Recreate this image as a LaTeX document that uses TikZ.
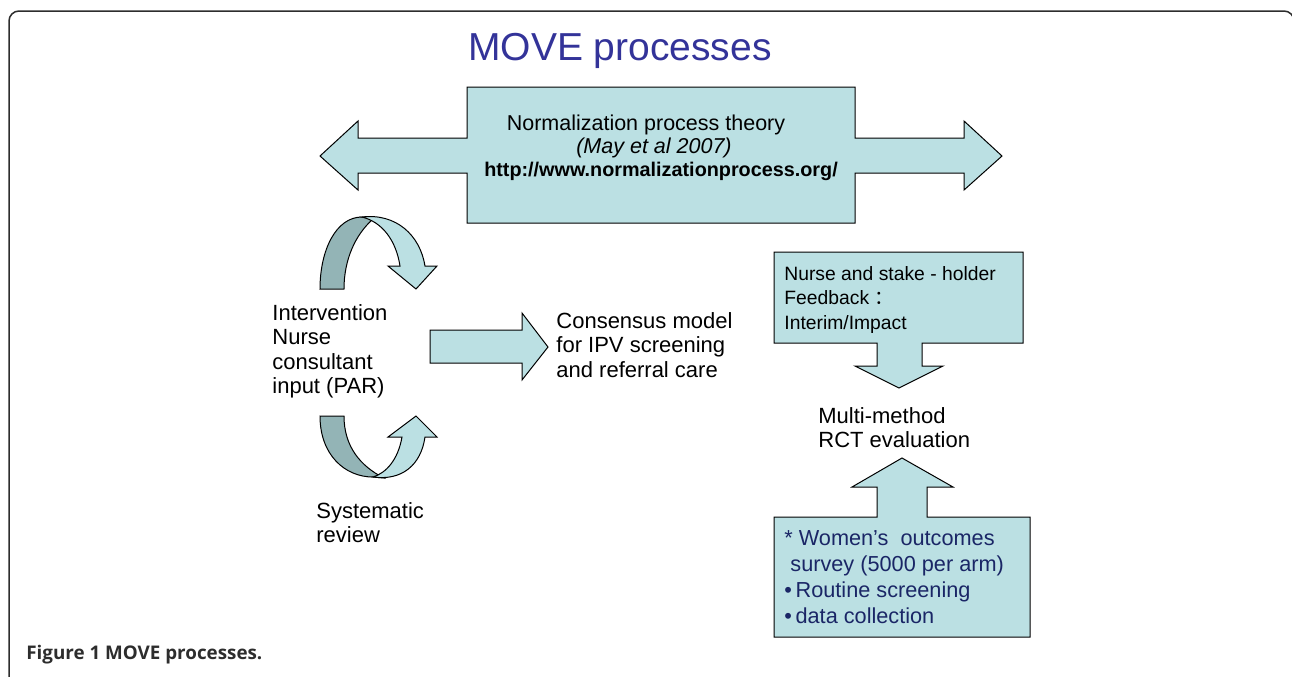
\documentclass[tikz,border=0pt]{standalone}
\usepackage{fontspec}
\setmainfont{Liberation Sans}
\newfontfamily\cjk{Noto Sans CJK SC}
\newfontfamily\capfont{Open Sans}
\usetikzlibrary{positioning}
\definecolor{boxfill}{RGB}{187,224,227}
\definecolor{backfill}{RGB}{147,180,182}
\definecolor{titleblue}{RGB}{51,51,153}
\definecolor{navytext}{RGB}{26,38,102}
\definecolor{framegray}{RGB}{45,45,45}
\tikzset{x=0.5pt, y=-0.5pt,
  block/.style={draw=black, fill=boxfill, line width=0.5pt, line join=miter},
  ribbon/.style={draw=black, fill=backfill, line width=0.5pt},
  txt/.style={inner sep=0pt, align=left, anchor=north west, font=\fontsize{11}{12.25}\selectfont}}

\begin{document}
\begin{tikzpicture}
    \useasboundingbox (0,0) rectangle (1292,676);
    \draw[framegray, line width=0.75pt, rounded corners=5pt] (9,690) -- (9,11) -- (1294,11) -- (1294,690);
    \node[inner sep=0pt, anchor=base, text=titleblue, font=\fontsize{19.5}{22}\selectfont] (title) at (620,60) {MOVE processes};
    \draw[block] (467,87) -- (855,87) -- (855,138) -- (964,138) -- (964,121) -- (1002,156) -- (964,190) -- (964,173) -- (855,173) -- (855,223) -- (467,223) -- (467,173) -- (358,173) -- (358,190) -- (320,156) -- (358,121) -- (358,138) -- (467,138) -- cycle;
    \node[inner sep=0pt, align=center, font=\fontsize{10.75}{11.5}\selectfont] (npt) at (654,147.5) {Normalization process theory\hspace*{8pt}\\ \textit{(May et al 2007)}\\ \hspace*{7pt}{\fontsize{9.9}{11.5}\selectfont\textbf{http://www.normalizationprocess.org/}}};
    \draw[ribbon] (320,289) .. controls (320,250) and (336,217) .. (362,217) -- (373,219) .. controls (355,235) and (344,260) .. (344,289) -- cycle;
    \draw[block] (362,217) .. controls (396,213) and (420,235) .. (425,266) -- (437,266) -- (416,289) -- (388,266) -- (400,266) .. controls (396,240) and (382,222) .. (362,217) -- cycle;
    \draw[ribbon] (320,416) .. controls (320,455) and (345,477) .. (373,477) -- (384,478) .. controls (360,466) and (344,446) .. (344,416) -- cycle;
    \draw[block] (373,477) .. controls (402,481) and (421,465) .. (425,437) -- (437,437) -- (416,416) -- (388,437) -- (402,437) .. controls (398,460) and (386,473) .. (373,477) -- cycle;
    \node[txt] (nurse) at (272,304) {Intervention\\Nurse\\consultant\\input (PAR)};
    \node[txt] (review) at (316,502) {Systematic\\review};
    \draw[block] (430,330) -- (522,330) -- (522,313) -- (548,347) -- (522,380) -- (522,363) -- (430,363) -- cycle;
    \node[txt] (model) at (556,312) {Consensus model\\for IPV screening\\and referral care};
    \draw[block] (774,252) -- (1023,252) -- (1023,343) -- (922,343) -- (922,366) -- (943,366) -- (899,388) -- (855,366) -- (877,366) -- (877,343) -- (774,343) -- cycle;
    \node[txt, font=\fontsize{9.65}{12.25}\selectfont] (feedback) at (784,266) {Nurse and stake - holder\\Feedback {\cjk ：}\\Interim/Impact};
    \node[txt] (rct) at (818,407) {Multi-method\\RCT evaluation};
    \draw[block] (774,637) -- (774,517) -- (877,517) -- (877,487) -- (852,487) -- (902,458) -- (953,487) -- (927,487) -- (927,517) -- (1030,517) -- (1030,637) -- cycle;
    \node[txt, text=navytext, font=\fontsize{10.85}{13}\selectfont] (survey) at (784,530) {* Women's\ \ outcomes\\\ survey (5000 per arm)\\\textbullet\,Routine screening\\\textbullet\,data collection};
    \node[inner sep=0pt, anchor=west, font=\capfont\bfseries\fontsize{9.4}{11}\selectfont, text=framegray] (caption) at (26,655) {Figure 1 MOVE processes.};
\end{tikzpicture}
\end{document}
